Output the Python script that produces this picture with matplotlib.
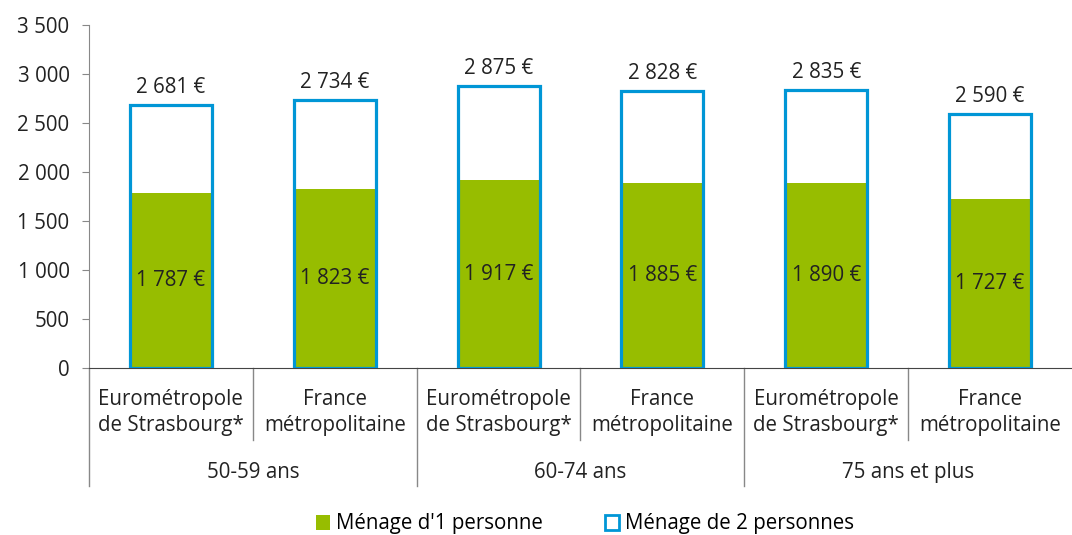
import matplotlib.pyplot as plt
import matplotlib.patches as mpatches
from matplotlib.ticker import FuncFormatter

plt.rcParams['font.family'] = ['Open Sans', 'DejaVu Sans']

# Data
categories = ["Eurométropole\nde Strasbourg*", "France\nmétropolitaine",
              "Eurométropole\nde Strasbourg*", "France\nmétropolitaine",
              "Eurométropole\nde Strasbourg*", "France\nmétropolitaine"]
groups = ["50-59 ans", "60-74 ans", "75 ans et plus"]
menage_1 = [1787, 1823, 1917, 1885, 1890, 1727]
menage_2 = [2681, 2734, 2875, 2828, 2835, 2590]

green = '#97BD00'
blue = '#0096D6'
fs = 14.8

def fmt(v):
    return f"{int(v):,}".replace(",", " ")

fig = plt.figure(figsize=(10.72, 5.35), dpi=100)
ax = fig.add_axes([89 / 1072, (535 - 368) / 535, (1072 - 89) / 1072, (368 - 25) / 535])

x = list(range(len(categories)))
ax.bar(x, menage_1, width=0.5, color=green, zorder=2)
ax.bar(x, menage_2, width=0.5, facecolor='none', edgecolor=blue, linewidth=2.3, zorder=3)

for xi, v1, v2 in zip(x, menage_1, menage_2):
    ax.text(xi, v1 / 2, fmt(v1) + " €", ha='center', va='center', fontsize=fs, color='#222222', zorder=4)
    ax.text(xi, v2 + 75, fmt(v2) + " €", ha='center', va='bottom', fontsize=fs, color='#222222')

ax.set_xlim(-0.5, 5.5)
ax.set_ylim(0, 3500)
ax.set_yticks(range(0, 3501, 500))
ax.yaxis.set_major_formatter(FuncFormatter(lambda v, p: fmt(v)))
ax.tick_params(axis='y', labelsize=fs, length=5, pad=9, color='#888888', labelcolor='#222222')
ax.set_xticks([])
for s in ['top', 'right']:
    ax.spines[s].set_visible(False)
ax.spines['left'].set_color('#888888')
ax.spines['bottom'].set_color('#444444')

# multi-level x labels
tr = ax.get_xaxis_transform()
for xi, lab in zip(x, categories):
    ax.text(xi, -0.13, lab, transform=tr, ha='center', va='center', fontsize=fs,
            color='#222222', linespacing=1.35)
for gi, g in enumerate(groups):
    ax.text(2 * gi + 0.5, -0.305, g, transform=tr, ha='center', va='center', fontsize=fs, color='#222222')
for b in [0.5, 2.5, 4.5]:
    ax.plot([b, b], [0, -0.21], transform=tr, color='#888888', lw=1, clip_on=False)
for b in [-0.5, 1.5, 3.5]:
    ax.plot([b, b], [0, -0.344], transform=tr, color='#888888', lw=1, clip_on=False)

handles = [mpatches.Patch(facecolor=green, label="Ménage d'1 personne"),
           mpatches.Patch(facecolor='white', edgecolor=blue, linewidth=2, label="Ménage de 2 personnes")]
fig.legend(handles=handles, loc='center', bbox_to_anchor=(585 / 1072, 1 - 524 / 535), ncol=2,
           frameon=False, fontsize=fs, handlelength=0.7, handleheight=0.7, handletextpad=0.3,
           columnspacing=3.0)

fig.savefig('out.png', dpi=100)
